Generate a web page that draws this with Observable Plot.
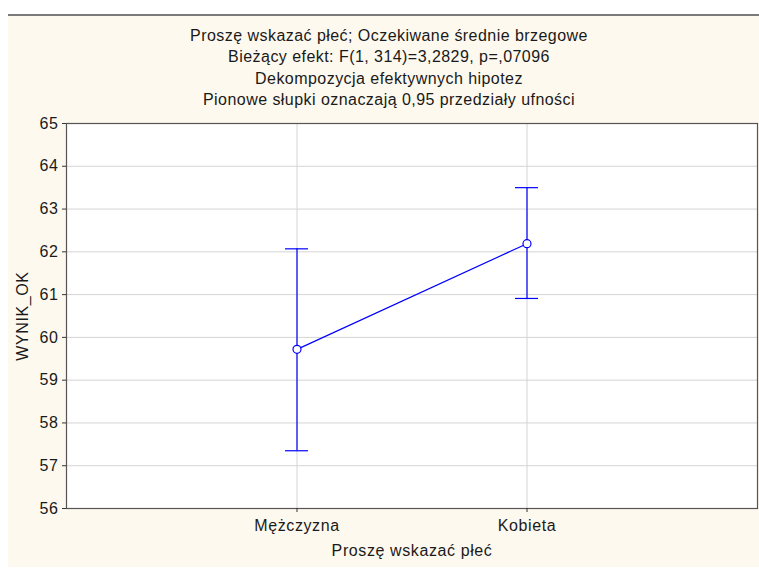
<!DOCTYPE html>
<html><head><meta charset="utf-8">
<script src="https://cdn.jsdelivr.net/npm/d3@7"></script>
<script src="https://cdn.jsdelivr.net/npm/@observablehq/plot@0.6"></script>
<style>
body{margin:0;background:#fff;}
#wrap{position:relative;width:759px;height:568px;overflow:hidden;font-family:"Liberation Sans",Arial,sans-serif;}
#bg{position:absolute;left:8px;top:14px;right:0;bottom:1px;background:#fef9ee;border-top:2px solid #7a7a7a;}
#titles{position:absolute;left:0;width:778px;top:25px;text-align:center;font-size:16px;letter-spacing:0.45px;line-height:21.3px;color:#1a1a1a;}
#chart{position:absolute;left:0;top:0;}
#chart svg text{letter-spacing:0.6px;}
</style></head>
<body>
<div id="wrap">
  <div id="bg"></div>
  <div id="titles">
    <div>Proszę wskazać płeć; Oczekiwane średnie brzegowe</div>
    <div>Bieżący efekt: F(1, 314)=3,2829, p=,07096</div>
    <div>Dekompozycja efektywnych hipotez</div>
    <div>Pionowe słupki oznaczają 0,95 przedziały ufności</div>
  </div>
  <div id="chart"></div>
</div>
<script>
const categories = ["Mężczyzna", "Kobieta"];
const means = [59.72, 62.19];
const lower = [57.35, 60.91];
const upper = [62.07, 63.50];
const yTicks = [56, 57, 58, 59, 60, 61, 62, 63, 64, 65];
const xLabel = "Proszę wskazać płeć";
const yLabel = "WYNIK_OK";

const data = categories.map((c, i) => ({cat: c, mean: means[i], lo: lower[i], hi: upper[i]}));
const blue = "#0000ff";

const chart = Plot.plot({
  width: 759,
  height: 568,
  marginTop: 123,
  marginBottom: 60,
  marginLeft: 66,
  marginRight: 2,
  style: {background: "transparent", fontFamily: "'Liberation Sans', Arial, sans-serif", fontSize: "16px", color: "#1a1a1a"},
  x: {type: "band", domain: categories, paddingInner: 0.9, paddingOuter: 0.95, axis: null},
  y: {domain: [56, 65], axis: null},
  marks: [
    Plot.frame({fill: "white", stroke: "none"}),
    Plot.gridY(yTicks, {stroke: "#d4d4d4", strokeOpacity: 1}),
    Plot.gridX(categories, {stroke: "#d4d4d4", strokeOpacity: 1}),
    Plot.frame({stroke: "#555", strokeWidth: 1.2}),
    Plot.axisY(yTicks, {tickSize: 4, tickPadding: 4, stroke: "#333", label: yLabel, labelAnchor: "center", labelArrow: "none", labelOffset: 50}),
    Plot.axisX(categories, {tickSize: 4, tickPadding: 7, stroke: "#333", label: xLabel, labelAnchor: "center", labelArrow: "none", labelOffset: 47}),
    Plot.ruleX(data, {x: "cat", y1: "lo", y2: "hi", stroke: blue, strokeWidth: 1.2}),
    Plot.tickY(data, {x: "cat", y: "hi", stroke: blue, strokeWidth: 1.2}),
    Plot.tickY(data, {x: "cat", y: "lo", stroke: blue, strokeWidth: 1.2}),
    Plot.line(data, {x: "cat", y: "mean", stroke: blue, strokeWidth: 1.2}),
    Plot.dot(data, {x: "cat", y: "mean", r: 4, stroke: blue, fill: "white", strokeWidth: 1.2})
  ]
});
document.getElementById("chart").appendChild(chart);
</script>
</body></html>
